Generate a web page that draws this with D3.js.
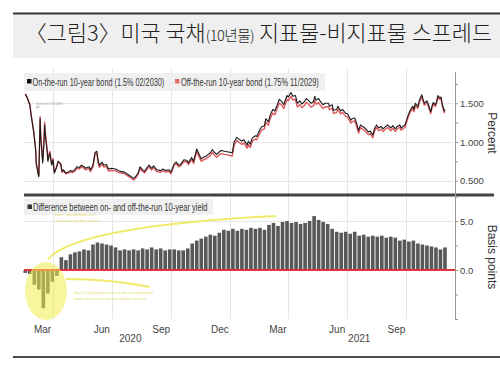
<!DOCTYPE html>
<html><head><meta charset="utf-8">
<script src="https://cdn.jsdelivr.net/npm/d3@7"></script>
<style>body{margin:0;background:#fff}svg{display:block}</style>
</head><body>
<svg id="c" width="500" height="366"></svg>
<script>
// ---------- DATA ----------
const titleMain1 = "〈그림3〉미국 국채";
const titleSmall = "(10년물)";
const titleMain2 = " 지표물-비지표물 스프레드";
const legendTop = ["On-the-run 10-year bond (1.5% 02/2030)", "Off-the-run 10-year bond (1.75% 11/2029)"];
const legendBottom = "Difference between on- and off-the-run 10-year yield";

const lineDates = ["2020-02-18","2020-02-21","2020-02-25","2020-02-27","2020-03-02","2020-03-05","2020-03-06","2020-03-09","2020-03-10","2020-03-12","2020-03-13","2020-03-16","2020-03-17","2020-03-18","2020-03-19","2020-03-20","2020-03-23","2020-03-24","2020-03-26","2020-03-27","2020-03-30","2020-04-01","2020-04-03","2020-04-06","2020-04-09","2020-04-13","2020-04-15","2020-04-17","2020-04-21","2020-04-24","2020-04-28","2020-05-01","2020-05-05","2020-05-08","2020-05-12","2020-05-15","2020-05-19","2020-05-22","2020-05-27","2020-05-29","2020-06-02","2020-06-05","2020-06-08","2020-06-10","2020-06-12","2020-06-16","2020-06-19","2020-06-23","2020-06-26","2020-06-30","2020-07-07","2020-07-14","2020-07-21","2020-07-28","2020-08-04","2020-08-07","2020-08-11","2020-08-14","2020-08-18","2020-08-21","2020-08-25","2020-08-28","2020-09-01","2020-09-04","2020-09-09","2020-09-15","2020-09-18","2020-09-23","2020-09-28","2020-10-01","2020-10-06","2020-10-09","2020-10-13","2020-10-16","2020-10-21","2020-10-26","2020-10-28","2020-11-02","2020-11-05","2020-11-10","2020-11-13","2020-11-17","2020-11-20","2020-11-25","2020-12-01","2020-12-04","2020-12-08","2020-12-11","2020-12-16","2020-12-18","2020-12-23","2020-12-29","2021-01-04","2021-01-07","2021-01-11","2021-01-14","2021-01-19","2021-01-22","2021-01-27","2021-01-29","2021-02-01","2021-02-04","2021-02-09","2021-02-11","2021-02-16","2021-02-19","2021-02-23","2021-02-25","2021-03-01","2021-03-04","2021-03-08","2021-03-11","2021-03-15","2021-03-18","2021-03-22","2021-03-25","2021-03-30","2021-04-01","2021-04-05","2021-04-08","2021-04-12","2021-04-15","2021-04-19","2021-04-22","2021-04-26","2021-04-29","2021-05-03","2021-05-06","2021-05-10","2021-05-12","2021-05-14","2021-05-18","2021-05-21","2021-05-25","2021-05-28","2021-06-02","2021-06-04","2021-06-08","2021-06-10","2021-06-15","2021-06-17","2021-06-21","2021-06-24","2021-06-29","2021-07-02","2021-07-07","2021-07-09","2021-07-13","2021-07-16","2021-07-19","2021-07-22","2021-07-27","2021-07-30","2021-08-03","2021-08-06","2021-08-10","2021-08-13","2021-08-16","2021-08-19","2021-08-23","2021-08-26","2021-08-30","2021-09-02","2021-09-07","2021-09-10","2021-09-14","2021-09-17","2021-09-21","2021-09-23","2021-09-27","2021-09-29","2021-10-04","2021-10-07","2021-10-11","2021-10-13","2021-10-15","2021-10-19","2021-10-21","2021-10-25","2021-10-27","2021-10-29","2021-11-02","2021-11-04","2021-11-08","2021-11-10","2021-11-12","2021-11-15","2021-11-17","2021-11-19","2021-11-22","2021-11-24","2021-11-26","2021-11-29","2021-11-30"];

const onRun = [1.62,1.57,1.48,1.35,1.13,0.90,0.72,0.58,0.55,1.30,1.05,0.73,0.85,0.99,1.22,1.10,0.87,0.75,0.82,0.86,0.70,0.77,0.60,0.66,0.75,0.72,0.62,0.64,0.60,0.61,0.63,0.62,0.64,0.68,0.67,0.70,0.68,0.66,0.68,0.64,0.70,0.86,0.88,0.76,0.70,0.74,0.70,0.71,0.65,0.66,0.65,0.62,0.61,0.57,0.53,0.55,0.60,0.68,0.64,0.62,0.67,0.70,0.66,0.69,0.64,0.63,0.65,0.63,0.64,0.61,0.72,0.74,0.70,0.71,0.77,0.76,0.73,0.80,0.75,0.91,0.85,0.78,0.80,0.82,0.86,0.90,0.86,0.84,0.88,0.89,0.88,0.87,0.86,1.00,1.06,1.04,1.01,1.03,0.96,1.01,0.97,1.05,1.08,1.07,1.16,1.20,1.21,1.30,1.26,1.35,1.42,1.40,1.48,1.55,1.52,1.48,1.60,1.58,1.64,1.59,1.60,1.50,1.53,1.49,1.52,1.56,1.53,1.50,1.52,1.59,1.54,1.56,1.52,1.48,1.50,1.50,1.46,1.48,1.41,1.42,1.46,1.40,1.42,1.37,1.36,1.28,1.30,1.31,1.24,1.15,1.22,1.19,1.17,1.13,1.14,1.09,1.18,1.22,1.18,1.20,1.17,1.20,1.22,1.18,1.21,1.17,1.20,1.22,1.18,1.21,1.22,1.35,1.41,1.46,1.42,1.50,1.46,1.53,1.61,1.55,1.50,1.53,1.49,1.39,1.47,1.51,1.48,1.52,1.60,1.57,1.58,1.48,1.40,1.42];

const offRun = [1.623,1.573,1.484,1.356,1.143,0.915,0.736,0.598,0.570,1.330,1.080,0.765,0.889,1.027,1.255,1.132,0.897,0.774,0.840,0.878,0.714,0.782,0.609,0.666,0.750,0.707,0.607,0.628,0.590,0.597,0.614,0.603,0.622,0.662,0.651,0.680,0.659,0.640,0.660,0.618,0.674,0.833,0.852,0.732,0.673,0.713,0.674,0.684,0.625,0.635,0.627,0.600,0.589,0.550,0.509,0.529,0.580,0.659,0.618,0.599,0.649,0.678,0.637,0.668,0.619,0.608,0.629,0.610,0.619,0.589,0.699,0.719,0.680,0.690,0.748,0.738,0.707,0.773,0.722,0.880,0.818,0.748,0.767,0.786,0.824,0.864,0.825,0.804,0.842,0.850,0.839,0.830,0.818,0.959,1.020,0.999,0.968,0.988,0.919,0.968,0.927,1.007,1.038,1.028,1.117,1.157,1.169,1.258,1.214,1.303,1.372,1.352,1.435,1.503,1.471,1.431,1.550,1.530,1.592,1.542,1.551,1.451,1.483,1.442,1.472,1.511,1.480,1.450,1.466,1.535,1.486,1.509,1.470,1.431,1.452,1.454,1.416,1.438,1.370,1.381,1.421,1.362,1.382,1.331,1.322,1.243,1.262,1.271,1.203,1.115,1.185,1.154,1.135,1.096,1.106,1.055,1.146,1.186,1.146,1.165,1.135,1.167,1.187,1.146,1.177,1.137,1.168,1.190,1.150,1.179,1.189,1.321,1.381,1.430,1.390,1.471,1.433,1.503,1.584,1.524,1.474,1.505,1.465,1.366,1.446,1.486,1.457,1.497,1.578,1.549,1.559,1.459,1.378,1.397];

// weekly spread observations (basis points), first week starting spreadStart
const spreadStart = "2020-02-18";
const spreadStepDays = 7;
const spreadBp = [-0.3,-0.4,-1.5,-2.0,-3.9,-2.4,-1.2,-0.6,1.3,1.0,1.6,1.8,1.9,2.1,2.0,2.6,2.8,2.7,2.6,2.5,2.3,2.0,2.1,2.0,2.1,2.0,2.2,2.1,2.3,2.1,2.2,2.0,2.1,2.1,2.0,2.0,2.2,2.7,3.0,3.2,3.4,3.6,3.5,3.8,4.1,4.0,4.2,4.0,4.2,4.1,4.3,4.2,4.3,4.1,4.6,4.8,4.5,4.9,5.0,4.8,4.9,4.7,4.8,5.0,5.5,5.1,4.9,4.7,4.2,3.9,3.8,3.9,3.7,3.9,3.5,3.6,3.4,3.5,3.4,3.5,3.3,3.4,3.3,3.0,3.1,2.9,3.0,2.7,2.6,2.5,2.4,2.3,2.1,2.3];

const monthTicks = ["2020-03-15","2020-06-15","2020-09-15","2020-12-15","2021-03-15","2021-06-15","2021-09-15"];
const monthNames = ["Mar","Jun","Sep","Dec","Mar","Jun","Sep"];
const yearTicks = ["2020-07-30","2021-07-20"];
const yearNames = ["2020","2021"];
const gridDates = ["2020-04-01","2020-07-01","2020-10-01","2021-01-01","2021-04-01","2021-07-01","2021-10-01"];
const topTicks = [0.5,0.75,1.0,1.25,1.5,1.75];
const topLabeled = [0.5,1.0,1.5];
const botTicks = [-5,-2.5,0,2.5,5,7.5];
const botLabeled = [0,5];
const xDomain = ["2020-02-16","2021-12-14"];

// ---------- DRAW ----------
const parse = d3.timeParse("%Y-%m-%d");
const svg = d3.select("#c");
const L = 24, R = 454;
const topY0 = 68, sep = 195, botY1 = 319;

const x = d3.scaleTime().domain(xDomain.map(parse)).range([L, R]);
const yT = d3.scaleLinear().domain([0.315, 1.955]).range([sep, topY0]);
const yB = d3.scaleLinear().domain([-5, 7.65]).range([botY1, sep]);

function fitText(parent, str, x0, y0, width, size, fill, family) {
  const t = parent.append("text").attr("font-family",family).attr("font-size",size).attr("fill",fill).text(str);
  const w = t.node().getComputedTextLength();
  const sx = width / w;
  t.attr("transform",`translate(${x0},${y0}) scale(${sx},1)`);
  return t;
}

// title band
svg.append("rect").attr("x",13).attr("y",15).attr("width",487).attr("height",43).attr("fill","#efefef");
svg.append("line").attr("x1",13).attr("x2",500).attr("y1",13.5).attr("y2",13.5).attr("stroke","#333").attr("stroke-width",2);
const title = svg.append("text").attr("x",25).attr("y",41)
  .attr("font-family","'Noto Sans CJK KR', sans-serif").attr("font-weight",300).attr("fill","#222");
const t1 = title.append("tspan").attr("font-size",21).text(titleMain1);
const t2 = title.append("tspan").attr("font-size",14).attr("letter-spacing",-0.5).text(titleSmall);
const t3 = title.append("tspan").attr("font-size",21).text(titleMain2);
const tw = title.node().getComputedTextLength();
const k = 467 / tw;
if (k > 0.8 && k < 1.25) { t1.attr("font-size",21*k); t2.attr("font-size",14*k); t3.attr("font-size",21*k); }

// gridlines
const grid = svg.append("g").attr("stroke","#e6e6e6").attr("stroke-width",1);
gridDates.forEach(d => {
  const gx = Math.round(x(parse(d))) + 0.5;
  grid.append("line").attr("x1",gx).attr("x2",gx).attr("y1",topY0).attr("y2",botY1);
});
topLabeled.forEach(v => {
  const gy = Math.round(yT(v)) + 0.5;
  grid.append("line").attr("x1",L).attr("x2",R).attr("y1",gy).attr("y2",gy);
});
grid.append("line").attr("x1",L).attr("x2",R).attr("y1",Math.round(yB(5))+0.5).attr("y2",Math.round(yB(5))+0.5);

// top legend
const lgFont = "'Liberation Sans',sans-serif";
svg.append("rect").attr("x",L).attr("y",73).attr("width",301).attr("height",18).attr("fill","#f0f0f0");
svg.append("rect").attr("x",27).attr("y",79).attr("width",4.5).attr("height",4.5).attr("fill","#111");
fitText(svg, legendTop[0], 32.5, 85.5, 132, 10.5, "#333", lgFont);
svg.append("rect").attr("x",175).attr("y",79).attr("width",4.5).attr("height",4.5).attr("fill","#e8706f");
fitText(svg, legendTop[1], 181, 85.5, 138, 10.5, "#333", lgFont);
svg.append("text").attr("x",36).attr("y",105).attr("font-family",lgFont).attr("font-size",2.6).attr("fill","#999").text("On-the-run 1.5% 02/30");
svg.append("text").attr("x",36).attr("y",108).attr("font-family",lgFont).attr("font-size",2.6).attr("fill","#999").text("yld");

// lines
const pts = lineDates.map(parse);
const line = d3.line().x((d,i)=>x(pts[i])).y(d=>yT(d));
svg.append("path").datum(offRun).attr("d",line).attr("fill","none").attr("stroke","#e0585e").attr("stroke-width",1.4).attr("stroke-linejoin","round");
svg.append("path").datum(onRun).attr("d",line).attr("fill","none").attr("stroke","#1a1a1a").attr("stroke-width",1.1).attr("stroke-linejoin","round");

// separator
svg.append("line").attr("x1",L).attr("x2",494).attr("y1",sep).attr("y2",sep).attr("stroke","#444").attr("stroke-width",3);

// bottom legend
svg.append("rect").attr("x",L).attr("y",199).attr("width",189).attr("height",16).attr("fill","#f0f0f0");
svg.append("rect").attr("x",27.5).attr("y",204.5).attr("width",4.5).attr("height",4.5).attr("fill","#333");
fitText(svg, legendBottom, 33, 211, 175, 10.5, "#333", lgFont);

// bars
const s0 = parse(spreadStart);
const sDates = spreadBp.map((v,i)=>d3.timeDay.offset(s0, spreadStepDays*i));
const bw = (x(sDates[1]) - x(sDates[0])) * 0.8;
svg.append("g").selectAll("rect").data(spreadBp).join("rect")
  .attr("x",(d,i)=>x(sDates[i]) - bw/2).attr("width",bw)
  .attr("y",d=>yB(Math.max(0,d))).attr("height",d=>Math.abs(yB(d)-yB(0)))
  .attr("fill","#585858");

// zero line
svg.append("line").attr("x1",L).attr("x2",R+1).attr("y1",yB(0)).attr("y2",yB(0)).attr("stroke","#e2323c").attr("stroke-width",2.2);

// annotations
const ann = svg.append("g");
ann.append("ellipse").attr("cx",46).attr("cy",291).attr("rx",21).attr("ry",29).attr("fill","#f3ec50").attr("opacity",0.55);
ann.append("path").attr("d","M48,259 Q78,226 276,216").attr("fill","none").attr("stroke","#f0e85a").attr("stroke-width",2).attr("opacity",0.9);
ann.append("path").attr("d","M66,279 Q110,279 150,287").attr("fill","none").attr("stroke","#f0e85a").attr("stroke-width",2).attr("opacity",0.9);
const annFont = "'Liberation Sans',sans-serif";
[["Later, spread widens as",216],["on-the-run liquidity returns",222]].forEach(([t,yy])=>
  ann.append("text").attr("x",55).attr("y",yy).attr("font-family",annFont).attr("font-size",3.8).attr("fill","#e6dc6a").text(t));
[["March 2020 liquidity crunch: on-the-run yields traded",294],["above off-the-run as investors sold the new note",300]].forEach(([t,yy])=>
  ann.append("text").attr("x",74).attr("y",yy).attr("font-family",annFont).attr("font-size",3.4).attr("fill","#e6dc6a").text(t));

// right axes
const axFont = "'Liberation Sans',sans-serif";
const fmtT = d3.format(".3f"), fmtB = d3.format(".1f");
const gT = svg.append("g").attr("transform",`translate(${R+1},0)`)
  .call(d3.axisRight(yT).tickValues(topTicks).tickSize(3).tickPadding(2).tickFormat(d=>topLabeled.includes(d)?fmtT(d):""));
gT.select(".domain").remove();
gT.append("line").attr("x1",0.5).attr("x2",0.5).attr("y1",72).attr("y2",sep).attr("stroke","#999");
const gB = svg.append("g").attr("transform",`translate(${R+1},0)`)
  .call(d3.axisRight(yB).tickValues(botTicks).tickSize(3).tickPadding(2).tickFormat(d=>botLabeled.includes(d)?fmtB(d):""));
gB.select(".domain").remove();
gB.append("line").attr("x1",0.5).attr("x2",0.5).attr("y1",sep).attr("y2",botY1).attr("stroke","#999");
[gT,gB].forEach(g=>{
  g.selectAll(".tick line").attr("stroke","#999");
  g.selectAll(".tick text").attr("font-family",axFont).attr("font-size",9.5).attr("fill","#444");
});
svg.append("text").attr("transform","translate(488,133) rotate(90)").attr("text-anchor","middle")
  .attr("font-family",axFont).attr("font-size",12).attr("fill","#333").text("Percent");
svg.append("text").attr("transform","translate(488,257) rotate(90)").attr("text-anchor","middle")
  .attr("font-family",axFont).attr("font-size",12).attr("fill","#333").text("Basis points");

// bottom x axis
const gX = svg.append("g").attr("transform",`translate(0,${botY1})`)
  .call(d3.axisBottom(x).tickValues(monthTicks.map(parse)).tickSize(0).tickPadding(7).tickFormat((d,i)=>monthNames[i]));
gX.select(".domain").remove();
gX.selectAll("text").attr("font-family",lgFont).attr("font-size",10).attr("fill","#444");
yearTicks.forEach((d,i)=>svg.append("text").attr("x",x(parse(d))).attr("y",342).attr("text-anchor","middle")
  .attr("font-family",lgFont).attr("font-size",10).attr("fill","#444").text(yearNames[i]));

// bottom rule
svg.append("line").attr("x1",13).attr("x2",500).attr("y1",357).attr("y2",357).attr("stroke","#111").attr("stroke-width",1.6);
</script>
</body></html>
